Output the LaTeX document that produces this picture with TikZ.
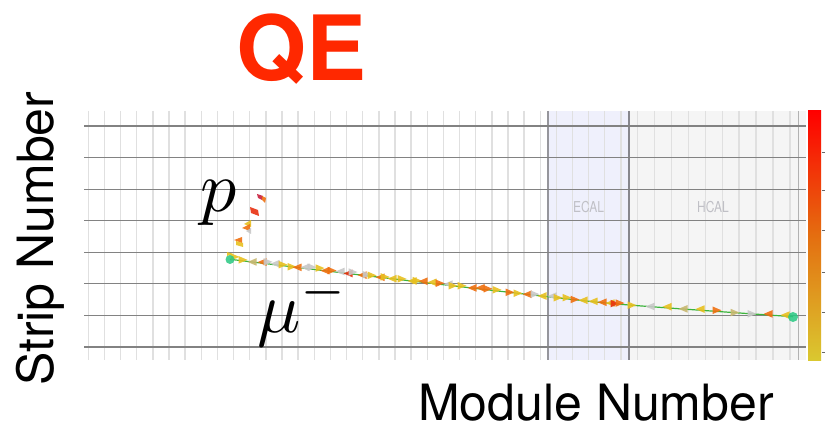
\documentclass[tikz,border=0pt]{standalone}
\usepackage{fontspec}
\newfontfamily\hv{TeX Gyre Heros}
\begin{document}
\begin{tikzpicture}[x=1pt,y=-1pt]
\definecolor{qered}{RGB}{255,40,0}
\definecolor{ecalbg}{RGB}{239,240,252}
\definecolor{hcalbg}{RGB}{245,245,245}
\definecolor{vgrid}{RGB}{224,224,224}
\definecolor{hgrid}{RGB}{130,130,130}
\definecolor{sep}{RGB}{150,150,156}
\definecolor{trackg}{RGB}{60,180,60}
\definecolor{trY}{RGB}{232,192,32}
\definecolor{trO}{RGB}{240,160,32}
\definecolor{trD}{RGB}{240,112,16}
\definecolor{trG}{RGB}{200,200,200}
\definecolor{trV}{RGB}{200,184,112}
\definecolor{trR}{RGB}{232,48,16}
\definecolor{trC}{RGB}{200,30,60}
\definecolor{dotg}{RGB}{40,200,130}
\definecolor{caltxt}{RGB}{192,192,198}
\tikzset{
  axislabel/.style={font=\hv\fontsize{50}{56}\selectfont, inner sep=0pt, text depth=0pt},
  mathlabel/.style={scale=7.2, inner sep=0pt},
  caltag/.style={font=\hv\fontsize{15}{17}\selectfont, text=caltxt, xscale=0.8, inner sep=0pt},
  hit/.style={opacity=0.9}
}
\useasboundingbox (0,0) rectangle (826,427);
\fill[white] (0,0) rectangle (826,427);
% backgrounds
\fill[ecalbg] (548,111) rectangle (629,360);
\fill[hcalbg] (629,111) rectangle (806,360);
% vertical light grid
\foreach \k in {0,...,33} \draw[vgrid, line width=1.4pt] ({88.3+16.14*\k},111) -- ({88.3+16.14*\k},360);
\foreach \k in {0,...,9} \draw[vgrid, line width=1.4pt] ({637.7+16.9*\k},111) -- ({637.7+16.9*\k},360);
\draw[black!30, line width=1pt] (798,111) -- (798,360);
\draw[sep, line width=1.6pt] (548,111) -- (548,360);
\draw[sep!90!black, line width=1.6pt] (629,111) -- (629,360);
% horizontal grid
\foreach \k in {0,...,7} \draw[hgrid, line width=1.1pt] (84,{126+31.57*\k}) -- (806,{126+31.57*\k});
% calorimeter tags
\node[caltag] (ecal) at (588.5,207) {ECAL};
\node[caltag] (hcal) at (713,207) {HCAL};
% colour bar
\shade[top color=red, bottom color={rgb,255:red,218;green,200;blue,48}, middle color={rgb,255:red,228;green,110;blue,16}] (808,111) rectangle (821,360);
\foreach \t in {152,190,230,272,312,352} \draw[black!60, line width=0.8pt] (822,\t) -- (825,\t);
% track
\draw[trackg, line width=1.2pt] plot[smooth] coordinates {(230,259.3) (380,277.3) (548,296.7) (629,305) (793,316.7)};
% hits along the muon track
\foreach \x/\d/\c/\o in {
235/1/trY/-3, 243/1/trY/-1, 252/-1/trV/0, 262/-1/trD/-1, 268/1/trG/-2, 275/-1/trG/-1,
283/1/trY/-1, 292/1/trY/0, 297/-1/trD/0, 305/-1/trG/-1, 312/1/trG/-2, 320/1/trY/-2,
325/-1/trD/0, 332/1/trD/-1, 340/-1/trG/-1, 348/-1/trR/0, 353/1/trG/-2, 362/-1/trD/0,
367/1/trG/-1, 372/1/trY/-1, 380/-1/trD/0, 385/1/trY/-1, 392/-1/trY/0, 402/1/trY/-1,
412/-1/trY/0, 417/1/trY/-1,
423/-1/trD/-1, 432/-1/trY/-1, 440/1/trD/-1, 448/-1/trG/-1, 453/1/trY/0, 462/1/trY/-1,
472/-1/trD/0, 480/-1/trD/-1, 488/1/trD/-1, 497/1/trY/-1, 510/1/trD/0, 518/1/trY/0,
527/-1/trD/0, 535/1/trG/-1, 542/-1/trY/0, 552/-1/trG/-1, 558/1/trY/0, 567/1/trY/-1,
575/1/trD/0, 583/-1/trY/0, 593/-1/trY/0, 602/-1/trD/0, 610/-1/trY/0, 615/1/trR/0,
620/1/trD/-1, 632/1/trY/0, 650/-1/trG/0, 667/-1/trY/-1, 683/-1/trV/0, 700/-1/trY/-1,
717/1/trD/-1, 735/1/trV/0, 752/1/trG/0, 768/-1/trD/-1, 785/-1/trY/-1}{
  \pgfmathsetmacro\yc{(\x<380 ? 259.3+0.12*(\x-230) : (\x<548 ? 277.3+0.1155*(\x-380) : (\x<629 ? 296.7+0.1025*(\x-548) : 305+0.0713*(\x-629))))+\o}
  \fill[\c, hit] ({\x-4.5*\d},{\yc-3.8}) -- ({\x-4.5*\d},{\yc+3.8}) -- ({\x+4.5*\d},\yc) -- cycle;
}
% proton hits
\fill[trC, hit] (257,194) -- (263,196) -- (262,200) -- (258,198) -- cycle;
\fill[trD, hit] (262,196) -- (266,198) -- (265,203) -- (262,200) -- cycle;
\fill[trR, hit] (250,207) -- (258,210) -- (259,216) -- (251,213) -- cycle;
\fill[trY, hit] (251,220) -- (251,227) -- (244,224) -- cycle;
\fill[trD, hit] (250,224) -- (250,231) -- (242,228) -- cycle;
\fill[trG, hit] (246,231) -- (251,228) -- (251,234) -- cycle;
\fill[trD, hit] (242,237) -- (242,243) -- (234,240) -- cycle;
\fill[trY, hit] (236,241) -- (243,243) -- (243,247) -- (236,245) -- cycle;
\fill[trY, hit] (227,252) -- (233,254) -- (227,256) -- cycle;
% vertex and end points
\fill[dotg, opacity=0.85] (230,259.5) circle (4.5);
\fill[dotg, opacity=0.85] (793,317) circle (5);
% labels
\node[mathlabel, anchor=base west] (plab) at (199,212) {$p$};
\node[mathlabel, anchor=base west] (mulab) at (256,332) {$\mu^-$};
\node[font=\hv\bfseries\fontsize{90}{96}\selectfont, text=qered, inner sep=0pt, anchor=base] (qe) at (301.5,81) {QE};
\node[axislabel, anchor=base west] (xlab) at (418,420) {Module Number};
\node[axislabel, anchor=base west, rotate=90] (ylab) at (53,386) {Strip Number};
\end{tikzpicture}
\end{document}
